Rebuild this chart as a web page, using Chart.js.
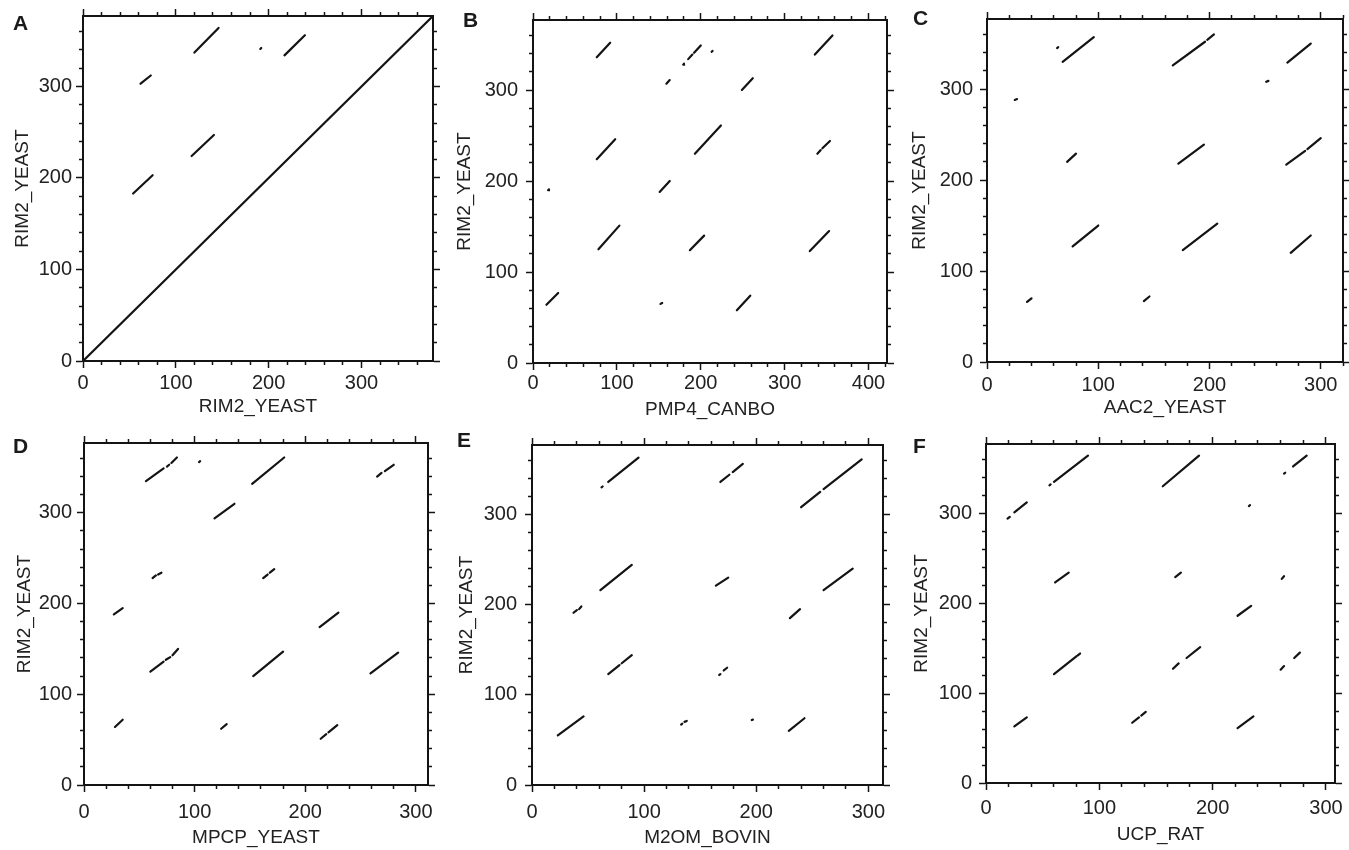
<!DOCTYPE html>
<html>
<head>
<meta charset="utf-8">
<script src="https://cdn.jsdelivr.net/npm/chart.js@4.4.0/dist/chart.umd.min.js"></script>
<style>
  body { margin: 0; background: #fff; width: 1349px; height: 850px; position: relative; overflow: hidden;
         font-family: 'Liberation Sans', Arial, sans-serif; }
  canvas { position: absolute; }
  .tag { position: absolute; font-weight: bold; font-size: 21px; line-height: 1; color: #1a1a1a; }
</style>
</head>
<body>
<script>
// ---- data (sequence positions, residues) ----
const yTitle = 'RIM2_YEAST';
const xTitles = ['RIM2_YEAST', 'PMP4_CANBO', 'AAC2_YEAST', 'MPCP_YEAST', 'M2OM_BOVIN', 'UCP_RAT'];
const panelTags = ['A', 'B', 'C', 'D', 'E', 'F'];
const xMax = [377, 422, 320, 311, 313, 308];
const yMax = 377;
const tickStep = 20;
const labelStep = 100;

// each segment: [x1, y1, x2, y2]
const segA = [[0,0,377,377], [120,337,146,364], [217,334,239,356], [191,341,192,342],
  [62,303,73,312], [117,224,141,247], [54,183,75,203]];
const segB = [[76,336,92,352], [179,328,180,329], [185,334,190,339], [192,341,200,349],
  [213,342,214,343], [159,307,163,311], [249,300,262,313], [336,339,357,360],
  [76,224,98,246], [193,230,224,261], [339,230,343,234], [345,236,354,244],
  [18,190,19,191], [151,188,163,200], [78,125,103,151], [187,124,204,140],
  [330,123,353,145], [16,64,30,77], [152,65,154,66], [243,58,259,74]];
const segC = [[63,345,64,346], [68,330,96,357], [167,326,196,352], [198,354,204,360],
  [270,329,291,350], [251,308,253,309], [25,288,27,289], [72,220,80,229],
  [172,218,195,239], [269,217,286,232], [288,234,300,246], [77,127,100,150],
  [176,123,207,152], [273,120,291,139], [36,66,40,70], [141,67,146,72]];
const segD = [[56,335,72,349], [75,351,77,353], [79,355,84,361], [104,356,105,357],
  [152,332,181,361], [265,340,269,344], [272,346,280,353], [118,294,136,310],
  [62,228,65,231], [67,232,70,234], [162,228,166,232], [168,234,172,238],
  [27,188,35,195], [213,174,230,190], [60,125,72,136], [74,138,78,141],
  [80,143,85,150], [153,120,180,147], [259,123,284,146], [28,64,35,72],
  [124,62,129,67], [214,51,219,56], [221,58,229,66]];
const segE = [[62,330,63,331], [68,336,95,363], [168,336,176,344], [179,347,188,356],
  [240,308,257,325], [260,328,294,361], [61,216,89,244], [164,221,175,230],
  [260,216,286,240], [37,191,40,194], [42,195,44,198], [230,185,239,195],
  [68,123,78,133], [80,135,89,144], [167,122,168,123], [171,127,174,130],
  [23,55,46,76], [133,67,134,68], [136,70,138,71], [196,72,197,72.5], [229,60,243,74]];
const segF = [[19,294,21,296], [25,301,36,312], [56,331,57,332], [60,335,90,364],
  [156,330,188,364], [263,344,264,345], [271,352,283,364], [232,308,233,309],
  [61,223,73,234], [167,229,172,234], [261,227,263,230], [222,186,234,197],
  [60,121,80,141], [81,142,83,144], [165,127,170,133], [177,139,189,151],
  [260,126,263,130], [272,139,277,145], [25,63,36,73], [129,67,135,73],
  [137,75,141,79], [222,61,236,74]];
const panelSegs = [segA, segB, segC, segD, segE, segF];

// ---- layout of each panel on the page ----
const boxes = [
  {x: 0,   y: 0,   w: 450, h: 425, l: 83, t: 15, r: 17, b: 64, yPad: 4, xPad: 3, xtPad: 6.6, ytPad: 11.6, tx: 13,  ty: 12},
  {x: 450, y: 0,   w: 450, h: 425, l: 83, t: 19, r: 13, b: 62, yPad: 8, xPad: 1, xtPad: 3.6, ytPad: 3.6,  tx: 463, ty: 9},
  {x: 900, y: 0,   w: 449, h: 425, l: 87, t: 16, r: 6,  b: 63, yPad: 7, xPad: 4, xtPad: 5.6, ytPad: 8.6,  tx: 913, ty: 7},
  {x: 0,   y: 425, w: 450, h: 425, l: 84, t: 18, r: 22, b: 65, yPad: 5, xPad: 8, xtPad: 0.6, ytPad: 13.6, tx: 13,  ty: 435},
  {x: 450, y: 425, w: 450, h: 425, l: 82, t: 14, r: 17, b: 65, yPad: 8, xPad: 8, xtPad: 0.6, ytPad: 5.6,  tx: 457, ty: 429},
  {x: 900, y: 425, w: 449, h: 425, l: 86, t: 13, r: 10, b: 67, yPad: 7, xPad: 6, xtPad: 3.6, ytPad: 10.6, tx: 913, ty: 435}
];

const ink = '#141414';
Chart.defaults.font.family = "'Liberation Sans', Arial, sans-serif";
Chart.defaults.color = '#222';

// outward ticks every 20, long ones every 100 (minor ones shortened with a dash)
function tickGrid(outerFirst) {
  return {
    drawOnChartArea: false,
    tickLength: 7,
    tickWidth: 1.5,
    tickColor: c => (c.tick && c.tick.value % tickStep === 0) ? ink : 'rgba(0,0,0,0)',
    tickBorderDash: c => (c.tick && c.tick.value % labelStep === 0) ? [] : [3, 10],
    tickBorderDashOffset: () => outerFirst ? 10 : 0
  };
}

function axis(pos, max, size, extra) {
  return Object.assign({
    type: 'linear', position: pos, min: 0, max: max,
    border: {display: true, color: ink, width: 2},
    grid: tickGrid(pos === 'left' || pos === 'top'),
    ticks: {display: false, stepSize: tickStep, autoSkip: false, maxRotation: 0, includeBounds: false},
    afterFit: s => { if (pos === 'left' || pos === 'right') s.width = size; else s.height = size; }
  }, extra);
}

panelSegs.forEach((segs, i) => {
  const bx = boxes[i];
  const cv = document.createElement('canvas');
  cv.width = bx.w; cv.height = bx.h;
  cv.style.left = bx.x + 'px'; cv.style.top = bx.y + 'px';
  document.body.appendChild(cv);

  const tag = document.createElement('div');
  tag.className = 'tag';
  tag.textContent = panelTags[i];
  tag.style.left = bx.tx + 'px'; tag.style.top = bx.ty + 'px';
  document.body.appendChild(tag);

  const datasets = segs.map(s => ({
    data: [{x: s[0], y: s[1]}, {x: s[2], y: s[3]}],
    showLine: true, borderColor: ink, borderWidth: 2.2, borderCapStyle: 'round',
    pointRadius: 0, pointHoverRadius: 0
  }));

  new Chart(cv, {
    type: 'scatter',
    data: {datasets},
    options: {
      responsive: false, animation: false, events: [],
      layout: {padding: 0},
      plugins: {legend: {display: false}, tooltip: {enabled: false}},
      scales: {
        x: axis('bottom', xMax[i], bx.b, {
          ticks: {stepSize: tickStep, autoSkip: false, maxRotation: 0, includeBounds: false, padding: bx.xPad,
                  font: {size: 20}, callback: v => v % labelStep === 0 ? v : ''},
          title: {display: true, text: xTitles[i], font: {size: 19}, padding: {top: 0, bottom: bx.xtPad}}
        }),
        y: axis('left', yMax, bx.l, {
          ticks: {stepSize: tickStep, autoSkip: false, includeBounds: false, padding: bx.yPad,
                  font: {size: 20}, callback: v => v % labelStep === 0 ? v : ''},
          title: {display: true, text: yTitle, font: {size: 19}, padding: {top: bx.ytPad, bottom: 0}}
        }),
        x2: axis('top', xMax[i], bx.t),
        y2: axis('right', yMax, bx.r)
      }
    }
  });
});
</script>
</body>
</html>
